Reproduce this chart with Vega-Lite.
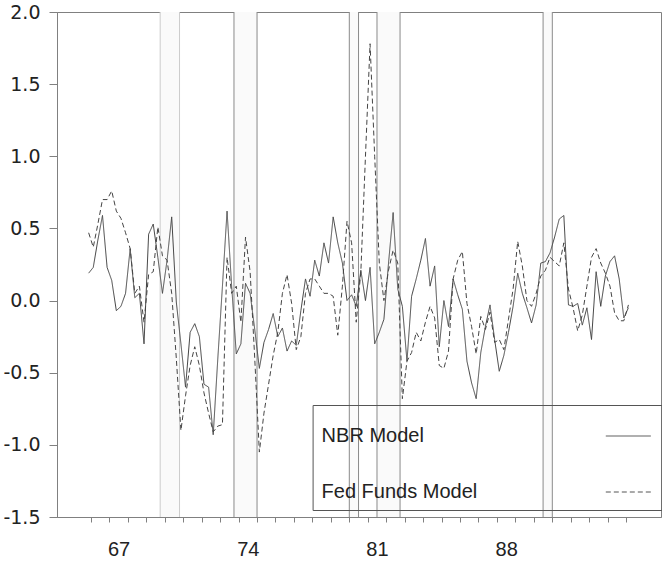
{
  "$schema": "https://vega.github.io/schema/vega-lite/v6.json",
  "width": 604,
  "height": 505,
  "autosize": {"type": "none"},
  "padding": {"left": 57, "top": 12, "right": 1, "bottom": 44},
  "config": {
    "view": {"stroke": "#808080", "strokeWidth": 1},
    "font": "Liberation Sans",
    "axisX": {
      "title": null, "grid": false,
      "tickSize": 5, "tickColor": "#808080", "domainColor": "#808080",
      "labelOffset": 9.2, "labelPadding": 17, "labelFontSize": 20, "labelColor": "#222222",
      "labelOverlap": false, "labelFlush": false, "labelBound": false
    },
    "axisY": {
      "title": null, "grid": false,
      "tickSize": 8, "tickColor": "#808080", "domainColor": "#808080",
      "labelPadding": 9, "labelFontSize": 19, "labelFont": "DejaVu Sans", "labelColor": "#222222",
      "labelOverlap": false, "labelFlush": false, "labelBound": false
    }
  },
  "datasets": {
    "rec": [
      {"start": 69.75, "end": 70.8},
      {"start": 73.75, "end": 75.0},
      {"start": 80.0, "end": 80.5},
      {"start": 81.5, "end": 82.75},
      {"start": 90.5, "end": 91.0}
    ],
    "series": [
      {"t": 65.875, "nbr": 0.19, "ff": 0.47},
      {"t": 66.125, "nbr": 0.23, "ff": 0.37},
      {"t": 66.375, "nbr": 0.42, "ff": 0.53},
      {"t": 66.625, "nbr": 0.59, "ff": 0.70},
      {"t": 66.875, "nbr": 0.23, "ff": 0.70},
      {"t": 67.125, "nbr": 0.14, "ff": 0.76},
      {"t": 67.375, "nbr": -0.07, "ff": 0.62},
      {"t": 67.625, "nbr": -0.04, "ff": 0.57},
      {"t": 67.875, "nbr": 0.05, "ff": 0.47},
      {"t": 68.125, "nbr": 0.36, "ff": 0.36},
      {"t": 68.375, "nbr": 0.02, "ff": 0.05},
      {"t": 68.625, "nbr": 0.05, "ff": 0.10},
      {"t": 68.875, "nbr": -0.30, "ff": -0.15},
      {"t": 69.125, "nbr": 0.46, "ff": 0.18},
      {"t": 69.375, "nbr": 0.53, "ff": 0.20},
      {"t": 69.625, "nbr": 0.30, "ff": 0.51},
      {"t": 69.875, "nbr": 0.05, "ff": 0.31},
      {"t": 70.125, "nbr": 0.28, "ff": 0.28},
      {"t": 70.375, "nbr": 0.58, "ff": 0.05},
      {"t": 70.625, "nbr": -0.01, "ff": -0.40},
      {"t": 70.875, "nbr": -0.30, "ff": -0.90},
      {"t": 71.125, "nbr": -0.60, "ff": -0.66},
      {"t": 71.375, "nbr": -0.22, "ff": -0.45},
      {"t": 71.625, "nbr": -0.16, "ff": -0.32},
      {"t": 71.875, "nbr": -0.25, "ff": -0.45},
      {"t": 72.125, "nbr": -0.58, "ff": -0.64},
      {"t": 72.375, "nbr": -0.60, "ff": -0.78},
      {"t": 72.625, "nbr": -0.93, "ff": -0.91},
      {"t": 72.875, "nbr": -0.40, "ff": -0.87},
      {"t": 73.125, "nbr": 0.10, "ff": -0.86},
      {"t": 73.375, "nbr": 0.62, "ff": 0.30},
      {"t": 73.625, "nbr": 0.10, "ff": 0.05},
      {"t": 73.875, "nbr": -0.37, "ff": 0.10},
      {"t": 74.125, "nbr": -0.30, "ff": -0.15},
      {"t": 74.375, "nbr": 0.12, "ff": 0.44},
      {"t": 74.625, "nbr": 0.05, "ff": 0.20},
      {"t": 74.875, "nbr": -0.20, "ff": -0.40},
      {"t": 75.125, "nbr": -0.47, "ff": -1.05},
      {"t": 75.375, "nbr": -0.29, "ff": -0.78},
      {"t": 75.625, "nbr": -0.20, "ff": -0.58},
      {"t": 75.875, "nbr": -0.09, "ff": -0.38},
      {"t": 76.125, "nbr": -0.25, "ff": -0.22},
      {"t": 76.375, "nbr": -0.19, "ff": 0.05},
      {"t": 76.625, "nbr": -0.35, "ff": 0.18},
      {"t": 76.875, "nbr": -0.28, "ff": -0.02},
      {"t": 77.125, "nbr": -0.31, "ff": -0.34},
      {"t": 77.375, "nbr": -0.07, "ff": -0.25},
      {"t": 77.625, "nbr": 0.15, "ff": 0.05},
      {"t": 77.875, "nbr": 0.03, "ff": 0.15},
      {"t": 78.125, "nbr": 0.28, "ff": 0.15},
      {"t": 78.375, "nbr": 0.17, "ff": 0.10},
      {"t": 78.625, "nbr": 0.40, "ff": 0.05},
      {"t": 78.875, "nbr": 0.26, "ff": 0.05},
      {"t": 79.125, "nbr": 0.58, "ff": 0.03},
      {"t": 79.375, "nbr": 0.40, "ff": -0.24},
      {"t": 79.625, "nbr": 0.26, "ff": 0.10},
      {"t": 79.875, "nbr": 0.00, "ff": 0.55},
      {"t": 80.125, "nbr": 0.04, "ff": 0.40},
      {"t": 80.375, "nbr": -0.04, "ff": -0.15},
      {"t": 80.625, "nbr": 0.21, "ff": 0.20},
      {"t": 80.875, "nbr": 0.00, "ff": 1.00},
      {"t": 81.125, "nbr": 0.23, "ff": 1.78},
      {"t": 81.375, "nbr": -0.30, "ff": 1.00},
      {"t": 81.625, "nbr": -0.22, "ff": 0.26},
      {"t": 81.875, "nbr": -0.13, "ff": 0.00},
      {"t": 82.125, "nbr": 0.26, "ff": 0.21},
      {"t": 82.375, "nbr": 0.61, "ff": 0.35},
      {"t": 82.625, "nbr": 0.08, "ff": 0.26},
      {"t": 82.875, "nbr": -0.04, "ff": -0.68},
      {"t": 83.125, "nbr": -0.42, "ff": -0.42},
      {"t": 83.375, "nbr": 0.03, "ff": -0.36},
      {"t": 83.625, "nbr": 0.15, "ff": -0.22},
      {"t": 83.875, "nbr": 0.28, "ff": -0.28},
      {"t": 84.125, "nbr": 0.43, "ff": -0.15},
      {"t": 84.375, "nbr": 0.10, "ff": -0.04},
      {"t": 84.625, "nbr": 0.24, "ff": -0.12},
      {"t": 84.875, "nbr": -0.32, "ff": -0.45},
      {"t": 85.125, "nbr": 0.00, "ff": -0.47},
      {"t": 85.375, "nbr": -0.18, "ff": -0.35},
      {"t": 85.625, "nbr": 0.15, "ff": 0.15},
      {"t": 85.875, "nbr": 0.04, "ff": 0.28},
      {"t": 86.125, "nbr": -0.06, "ff": 0.34},
      {"t": 86.375, "nbr": -0.42, "ff": -0.02},
      {"t": 86.625, "nbr": -0.57, "ff": -0.18},
      {"t": 86.875, "nbr": -0.68, "ff": -0.37},
      {"t": 87.125, "nbr": -0.36, "ff": -0.11},
      {"t": 87.375, "nbr": -0.18, "ff": -0.20},
      {"t": 87.625, "nbr": -0.03, "ff": -0.08},
      {"t": 87.875, "nbr": -0.27, "ff": -0.29},
      {"t": 88.125, "nbr": -0.49, "ff": -0.27},
      {"t": 88.375, "nbr": -0.38, "ff": -0.34},
      {"t": 88.625, "nbr": -0.22, "ff": -0.13},
      {"t": 88.875, "nbr": -0.04, "ff": 0.08},
      {"t": 89.125, "nbr": 0.19, "ff": 0.41},
      {"t": 89.375, "nbr": 0.05, "ff": 0.24},
      {"t": 89.625, "nbr": -0.05, "ff": 0.00},
      {"t": 89.875, "nbr": -0.155, "ff": -0.04},
      {"t": 90.125, "nbr": -0.03, "ff": 0.05},
      {"t": 90.375, "nbr": 0.26, "ff": 0.17},
      {"t": 90.625, "nbr": 0.27, "ff": 0.21},
      {"t": 90.875, "nbr": 0.33, "ff": 0.30},
      {"t": 91.125, "nbr": 0.44, "ff": 0.27},
      {"t": 91.375, "nbr": 0.565, "ff": 0.24},
      {"t": 91.625, "nbr": 0.59, "ff": 0.40},
      {"t": 91.875, "nbr": -0.03, "ff": 0.08},
      {"t": 92.125, "nbr": -0.04, "ff": -0.05},
      {"t": 92.375, "nbr": -0.02, "ff": -0.21},
      {"t": 92.625, "nbr": -0.17, "ff": -0.10},
      {"t": 92.875, "nbr": -0.05, "ff": 0.10},
      {"t": 93.125, "nbr": -0.27, "ff": 0.30},
      {"t": 93.375, "nbr": 0.20, "ff": 0.36},
      {"t": 93.625, "nbr": -0.04, "ff": 0.26},
      {"t": 93.875, "nbr": 0.17, "ff": 0.19},
      {"t": 94.125, "nbr": 0.27, "ff": 0.10},
      {"t": 94.375, "nbr": 0.31, "ff": -0.085},
      {"t": 94.625, "nbr": 0.15, "ff": -0.14},
      {"t": 94.875, "nbr": -0.12, "ff": -0.14},
      {"t": 95.125, "nbr": -0.05, "ff": -0.03}
    ]
  },
  "layer": [
    {
      "data": {"name": "rec"},
      "mark": {"type": "rect", "color": "#fafafa"},
      "encoding": {
        "x": {"field": "start", "type": "quantitative", "scale": {"domain": [64.16, 96.89], "nice": false, "zero": false},
          "axis": {
            "values": [66,67,68,69,70,71,72,73,74,75,76,77,78,79,80,81,82,83,84,85,86,87,88,89,90,91,92,93,94,95],
            "labelExpr": "indexof([67,74,81,88], datum.value) >= 0 ? format(datum.value, 'd') : ''"
          }},
        "x2": {"field": "end"}
      }
    },
    {
      "data": {"name": "rec"},
      "transform": [{"fold": ["start", "end"], "as": ["edge", "pos"]}],
      "mark": {"type": "rule", "strokeWidth": 1},
      "encoding": {
        "x": {"field": "pos", "type": "quantitative", "scale": {"domain": [64.16, 96.89], "nice": false, "zero": false},
          "axis": {
            "values": [66,67,68,69,70,71,72,73,74,75,76,77,78,79,80,81,82,83,84,85,86,87,88,89,90,91,92,93,94,95],
            "labelExpr": "indexof([67,74,81,88], datum.value) >= 0 ? format(datum.value, 'd') : ''"
          }},
        "color": {"condition": {"test": "datum.pos < 71", "value": "#cccccc"}, "value": "#8a8a8a"}
      }
    },
    {
      "mark": {"type": "rule", "color": "#9a9a9a", "strokeWidth": 1},
      "encoding": {
        "y": {"datum": 0, "type": "quantitative", "scale": {"domain": [-1.5, 2.0], "nice": false, "zero": false},
          "axis": {
            "values": [-1.5, -1.0, -0.5, 0.0, 0.5, 1.0, 1.5, 2.0],
            "labelExpr": "datum.value < 0 ? '-' + format(-datum.value, '.1f') : format(datum.value, '.1f')"
          }}
      }
    },
    {
      "data": {"name": "series"},
      "transform": [{"fold": ["nbr", "ff"], "as": ["series", "value"]}],
      "mark": {"type": "line", "strokeWidth": 1, "color": "#444444"},
      "encoding": {
        "x": {
          "field": "t", "type": "quantitative",
          "scale": {"domain": [64.16, 96.89], "nice": false, "zero": false},
          "axis": {
            "values": [66,67,68,69,70,71,72,73,74,75,76,77,78,79,80,81,82,83,84,85,86,87,88,89,90,91,92,93,94,95],
            "labelExpr": "indexof([67,74,81,88], datum.value) >= 0 ? format(datum.value, 'd') : ''"
          }
        },
        "y": {
          "field": "value", "type": "quantitative",
          "scale": {"domain": [-1.5, 2.0], "nice": false, "zero": false},
          "axis": {
            "values": [-1.5, -1.0, -0.5, 0.0, 0.5, 1.0, 1.5, 2.0],
            "labelExpr": "datum.value < 0 ? '-' + format(-datum.value, '.1f') : format(datum.value, '.1f')"
          }
        },
        "strokeDash": {
          "field": "series", "type": "nominal",
          "scale": {"domain": ["nbr", "ff"], "range": [[1, 0], [5, 3]]},
          "legend": {
            "orient": "none", "legendX": 255.6, "legendY": 393,
            "title": null,
            "strokeColor": "#555555", "padding": 8,
            "symbolType": "stroke", "symbolSize": 2025, "symbolStrokeWidth": 1, "symbolStrokeColor": "#555555",
            "labelExpr": "datum.value == 'nbr' ? 'NBR Model' : 'Fed Funds Model'",
            "labelFontSize": 20, "labelColor": "#222222", "labelLimit": 400,
            "labelOffset": -329.7, "symbolOffset": 284.7, "rowPadding": 23
          }
        }
      }
    }
  ]
}
